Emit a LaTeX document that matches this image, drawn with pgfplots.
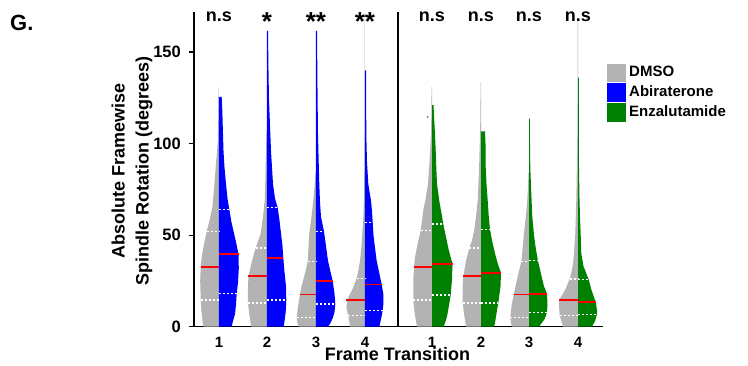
\documentclass[border=0pt]{standalone}
\usepackage{fontspec}
\setmainfont{Liberation Sans}
\usepackage{pgfplots}
\pgfplotsset{compat=1.18}

\definecolor{dg}{HTML}{B3B3B3}
\definecolor{ab}{HTML}{0000FF}
\definecolor{ez}{HTML}{008000}

\newcommand{\halfv}[4]{\addplot[fill=#1, draw=none, forget plot] table[row sep=\\, x expr={#2+(#3)*\thisrow{w}}, y=y] {#4};}
\newcommand{\qline}[3]{\addplot[white, line width=1.3pt, dash pattern=on 2pt off 2pt, forget plot] coordinates {(#1,#3) (#2,#3)};}
\newcommand{\mline}[3]{\addplot[red, line width=1.8pt, forget plot] coordinates {(#1,#3) (#2,#3)};}

\begin{document}
\begin{tikzpicture}
\begin{axis}[
  at={(0,0)}, anchor=south west,
  scale only axis, width=409pt, height=315pt,
  xmin=194, xmax=603, ymin=0, ymax=172,
  axis x line*=bottom, axis y line*=left,
  axis line style={line width=1.1pt, -},
  clip mode=individual,
  ytick={0,50,100,150},
  xtick={219,267,316,365,432,481,529,578},
  xticklabels={1,2,3,4,1,2,3,4},
  tick align=outside, major tick length=5pt,
  ytick style={line width=1.1pt, black},
  xtick style={draw=none},
  /pgf/number format/assume math mode=true,
  yticklabel style={font=\fontsize{16.5}{16.5}\selectfont\bfseries, inner sep=0pt, xshift=-8pt},
  xticklabel style={font=\fontsize{15}{15}\selectfont\bfseries, inner sep=0pt, yshift=-5pt},
  legend style={at={(1.01,0.836)}, anchor=north west, draw=none, fill=none,
    font=\fontsize{15}{15}\selectfont\bfseries, row sep=2pt, inner sep=0pt,
    nodes={inner sep=0pt}, /tikz/column 1/.style={column sep=4pt}},
  legend cell align=left,
]
% ---------- left panel: DMSO vs Abiraterone ----------
\halfv{dg}{219}{-1}{y w\\ 131 0\\ 131 0.4\\ 110 0.8\\ 100 1.3\\ 87 3.3\\ 75 5\\ 65 6.7\\ 58 9.5\\ 52 12.3\\ 45 15\\ 38 17.3\\ 32.5 18.3\\ 25 18.8\\ 15 18.3\\ 8 17.5\\ 3 16.5\\ 0 15.5\\ 0 0\\}
\halfv{ab}{219}{1}{y w\\ 125.5 0\\ 125.5 2.7\\ 118 3.3\\ 105 4\\ 96 4.5\\ 87 5.5\\ 78 7\\ 70 8.5\\ 64 10.3\\ 57 12.5\\ 51 15\\ 45 17.5\\ 39.5 19.5\\ 32 19.8\\ 24 19\\ 18 17.7\\ 12 17\\ 7 16\\ 3 14\\ 0 12.5\\ 0 0\\}
\halfv{dg}{267}{-1}{y w\\ 108 0\\ 108 0.4\\ 95 1\\ 80 1.7\\ 69 2.3\\ 60 4\\ 51 6.3\\ 43 11.3\\ 36 15\\ 27.5 18.5\\ 20 19.2\\ 13 19\\ 6 17.5\\ 0 15.7\\ 0 0\\}
\halfv{ab}{267}{1}{y w\\ 161.5 0\\ 161.5 1\\ 140 1.5\\ 124 2\\ 110 3\\ 96 4\\ 87 5\\ 78 6\\ 70 8\\ 65 10.7\\ 58 12.5\\ 51 14\\ 44 15.5\\ 37.6 16.3\\ 30 17.5\\ 22 19\\ 14.5 19.3\\ 8 18.7\\ 3 17.5\\ 0 16.7\\ 0 0\\}
\halfv{dg}{316}{-1}{y w\\ 84 0\\ 84 0.5\\ 76 1.5\\ 69 2.7\\ 60 4.5\\ 51 6.7\\ 43 7.5\\ 35.5 8.3\\ 28 11.5\\ 22 14.5\\ 17.6 16\\ 11 18\\ 5 19.3\\ 2 18.5\\ 0 17\\ 0 0\\}
\halfv{ab}{316}{1}{y w\\ 161.5 0\\ 161.5 1\\ 130 1.5\\ 105 2\\ 90 2.7\\ 78 3.3\\ 68 4\\ 60 5\\ 52 8\\ 44 10\\ 36 12\\ 30 14.5\\ 25 16.7\\ 18 18.5\\ 12.4 19.3\\ 8 18.5\\ 5 17\\ 2 14.5\\ 0 12\\ 0 0\\}
\halfv{dg}{365}{-1}{y w\\ 171 0\\ 171 0.4\\ 120 0.4\\ 90 0.6\\ 69 1\\ 60 1.7\\ 51 2.7\\ 43 3.7\\ 36 5\\ 31 6.5\\ 26.4 8.3\\ 21 12\\ 14.5 18\\ 10 18.5\\ 6 16.7\\ 2 15.5\\ 0 15\\ 0 0\\}
\halfv{ab}{365}{1}{y w\\ 140 0\\ 140 1\\ 120 1.2\\ 105 1.3\\ 90 2\\ 78 3.3\\ 72 5\\ 69 6\\ 63 7\\ 57 7.7\\ 50 8.5\\ 43 10\\ 36 11.7\\ 30 14\\ 23 16.7\\ 18 18.3\\ 13 18.5\\ 9 17.7\\ 4 16\\ 0 14.3\\ 0 0\\}
% ---------- right panel: DMSO vs Enzalutamide ----------
\halfv{dg}{432}{-1}{y w\\ 131 0\\ 131 0.4\\ 115 0.7\\ 105 1\\ 90 2.5\\ 78 4\\ 70 6.3\\ 65 8.3\\ 58 10\\ 52.4 11.3\\ 45 14.5\\ 38 17\\ 32.5 18\\ 25 18.7\\ 14.5 18.7\\ 8 17.5\\ 3 16\\ 0 15\\ 0 0\\}
\halfv{ez}{432}{1}{y w\\ 121 0\\ 121 1.5\\ 112 2.3\\ 105 3\\ 95 3.8\\ 87 4.3\\ 78 5\\ 68 7.5\\ 62 9.5\\ 56 11.3\\ 49 14\\ 42 16.7\\ 34.2 20.5\\ 26 20\\ 17.3 18.7\\ 10 16.5\\ 5.5 15\\ 2 13\\ 0 11.7\\ 0 0\\}
\halfv{dg}{481}{-1}{y w\\ 133.6 0\\ 133.6 0.4\\ 115 0.6\\ 105 1\\ 85 2\\ 69 3.3\\ 60 5\\ 53 6.7\\ 47 9\\ 43 11.7\\ 36 15\\ 27.5 17.7\\ 20 18.5\\ 13 18.3\\ 7 17\\ 2 15.5\\ 0 15\\ 0 0\\}
\halfv{ez}{481}{1}{y w\\ 106.7 0\\ 106.7 4\\ 100 4.5\\ 87 4.7\\ 78 5.5\\ 69 6.7\\ 60 7.8\\ 53 9\\ 46 11.5\\ 40 14\\ 34 17\\ 29.5 20\\ 22 19.5\\ 13 17.3\\ 5.5 15\\ 2 14\\ 0 13\\ 0 0\\}
\halfv{dg}{529}{-1}{y w\\ 84 0\\ 84 0.5\\ 76 1\\ 69 1.7\\ 60 3.2\\ 51 5\\ 43 6.3\\ 35.5 7.7\\ 28 11\\ 22 13.5\\ 17.6 15.3\\ 11 17.5\\ 5 18.7\\ 2 18\\ 0 17\\ 0 0\\}
\halfv{ez}{529}{1}{y w\\ 113.6 0\\ 113.6 0.8\\ 100 1\\ 87 1.3\\ 74 2.2\\ 60 3.3\\ 50 5\\ 42 7\\ 36 9\\ 30 11.5\\ 22 15\\ 18 18\\ 12 18.5\\ 7.8 18\\ 4 15.5\\ 1.5 12\\ 0 10\\ 0 0\\}
\halfv{dg}{578}{-1}{y w\\ 167 0\\ 167 0.4\\ 130 0.4\\ 105 0.7\\ 85 1.2\\ 69 1.7\\ 51 2.7\\ 40 4\\ 34.5 5\\ 30 6.5\\ 26 8.3\\ 20 13\\ 14.5 19\\ 10 18.8\\ 6 18.3\\ 2 16\\ 0 15\\ 0 0\\}
\halfv{ez}{578}{1}{y w\\ 136 0\\ 136 0.8\\ 110 0.9\\ 87 1\\ 70 1.5\\ 60 2\\ 50 2.7\\ 40 3.3\\ 33 5.5\\ 25.8 10.7\\ 20 13.5\\ 13.5 17.7\\ 9 19\\ 6.7 19\\ 3 17\\ 0 14\\ 0 0\\}
\addplot[only marks, mark=*, mark size=0.7pt, color=dg!70!black, forget plot] coordinates {(427.7,114.5)};
% ---------- quartiles (white dotted) ----------
\qline{206.7}{219}{52}   \qline{200.7}{219}{14.5}
\qline{219}{229.3}{64}   \qline{219}{236.7}{18}
\qline{255.7}{267}{43}   \qline{248}{267}{13}
\qline{267}{277.7}{65}   \qline{267}{286.3}{14.5}
\qline{307.7}{316}{35.5} \qline{296.7}{316}{5}
\qline{316}{324}{52}     \qline{316}{335.3}{12.4}
\qline{356.7}{365}{26.4} \qline{348.3}{365}{6}
\qline{365}{372.7}{57}   \qline{365}{382.7}{9}
\qline{420.7}{432}{52.4} \qline{413.3}{432}{14.5}
\qline{432}{443.3}{56}   \qline{432}{450.7}{17.3}
\qline{469.3}{481}{43}   \qline{462.7}{481}{13}
\qline{481}{490}{53}     \qline{481}{498.3}{13}
\qline{521.3}{529}{35.5} \qline{510.3}{529}{5}
\qline{529}{538}{36}     \qline{529}{547}{7.8}
\qline{569.7}{578}{26}   \qline{559.7}{578}{6}
\qline{578}{588.7}{25.8} \qline{578}{597}{6.7}
% ---------- medians (red) ----------
\mline{200.7}{219}{32.5} \mline{219}{238.7}{39.5}
\mline{248}{267}{27.5}   \mline{267}{283.3}{37.6}
\mline{300}{316}{17.6}   \mline{316}{332.7}{25}
\mline{346}{365}{14.5}   \mline{365}{381.7}{23}
\mline{414}{432}{32.5}   \mline{432}{452.7}{34.2}
\mline{463.3}{481}{27.5} \mline{481}{501}{29.5}
\mline{514}{529}{17.6}   \mline{529}{547}{18}
\mline{559}{578}{14.5}   \mline{578}{595.7}{13.5}
% divider
\addplot[black, line width=1.1pt, forget plot] coordinates {(398,0) (398,172)};
% significance
\foreach \xx/\lab in {219/n.s, 432/n.s, 481/n.s, 529/n.s, 578/n.s}{
  \edef\tmp{\noexpand\node[anchor=base, font=\noexpand\fontsize{18}{18}\noexpand\selectfont\noexpand\bfseries] at (axis cs:\xx,166.5) {\lab};}\tmp
}
\node[anchor=base, font=\fontsize{26}{26}\selectfont\bfseries] at (axis cs:267,161.5) {*};
\node[anchor=base, font=\fontsize{26}{26}\selectfont\bfseries] at (axis cs:316,161.5) {**};
\node[anchor=base, font=\fontsize{26}{26}\selectfont\bfseries] at (axis cs:365,161.5) {**};
% legend
\addlegendimage{legend image code/.code={\fill[dg] (0pt,-8.7pt) rectangle (17.5pt,8.7pt);}}
\addlegendentry{DMSO}
\addlegendimage{legend image code/.code={\fill[ab] (0pt,-8.7pt) rectangle (17.5pt,8.7pt);}}
\addlegendentry{Abiraterone}
\addlegendimage{legend image code/.code={\fill[ez] (0pt,-8.7pt) rectangle (17.5pt,8.7pt);}}
\addlegendentry{Enzalutamide}
\end{axis}
\node[anchor=center, rotate=90, align=center, font=\fontsize{18}{24}\selectfont\bfseries] at (-62pt,155.7pt) {Absolute Framewise\\Spindle Rotation (degrees)};
\node[anchor=base, font=\fontsize{18}{18}\selectfont\bfseries] at (203.5pt,-34pt) {Frame Transition};
\node[anchor=base west, inner sep=0pt, font=\fontsize{22}{22}\selectfont\bfseries] at (-184pt,295.7pt) {G.};
\pgfresetboundingbox
\path[use as bounding box] (-194pt,-39.3pt) rectangle (554pt,326.7pt);
\end{tikzpicture}
\end{document}
